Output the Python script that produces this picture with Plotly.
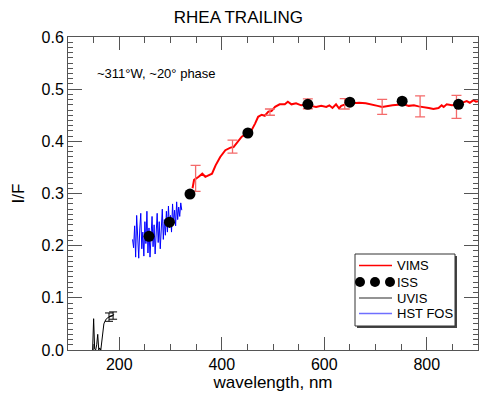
import plotly.graph_objects as go

# ---------------- data ----------------
vims_wl = [343, 346, 355, 362, 368, 375, 381, 388, 397, 407, 417, 423, 429, 439, 449, 458,
           465, 471, 478, 484, 491, 497, 504, 513, 523, 529, 536, 545, 555, 565, 574, 584,
           594, 604, 610, 616, 623, 629, 633, 645, 655, 668, 681, 694, 704, 713, 723, 733,
           744, 755, 765, 775, 784, 794, 804, 813, 823, 829, 833, 839, 849, 858, 868, 878,
           884, 891, 896, 900]
vims_val = [0.310, 0.326, 0.332, 0.338, 0.332, 0.336, 0.338, 0.354, 0.370, 0.383, 0.388, 0.389,
            0.396, 0.409, 0.415, 0.421, 0.434, 0.447, 0.451, 0.449, 0.457, 0.458, 0.466, 0.471,
            0.471, 0.476, 0.471, 0.473, 0.469, 0.470, 0.468, 0.466, 0.468, 0.466, 0.469, 0.464,
            0.471, 0.463, 0.468, 0.472, 0.473, 0.474, 0.473, 0.471, 0.468, 0.466, 0.468, 0.469,
            0.470, 0.471, 0.468, 0.469, 0.467, 0.466, 0.464, 0.462, 0.464, 0.469, 0.466, 0.471,
            0.469, 0.470, 0.473, 0.477, 0.474, 0.479, 0.476, 0.477]

vims_err_wl = [349, 421, 494, 568, 640, 713, 787, 858]
vims_err_val = [0.329, 0.390, 0.456, 0.472, 0.472, 0.466, 0.467, 0.466]
vims_err = [0.025, 0.0125, 0.006, 0.0095, 0.010, 0.0145, 0.020, 0.022]

iss_wl = [258, 298, 338, 451, 568, 650, 752, 862]
iss_val = [0.218, 0.245, 0.299, 0.416, 0.471, 0.475, 0.477, 0.471]

uvis_wl = [148, 150, 152, 154, 156, 158, 160, 162, 164, 166, 168, 170, 172, 175, 178, 182, 186, 190]
uvis_val = [0.000, 0.060, 0.002, 0.000, 0.010, 0.030, 0.000, 0.004, 0.000, 0.020, 0.040, 0.050,
            0.055, 0.060, 0.062, 0.065, 0.066, 0.068]
uvis_err_wl = [180, 188]
uvis_err_val = [0.063, 0.066]
uvis_err = [0.008, 0.007]

fos_wl = [226, 228, 230, 232, 234, 236, 238, 240, 242, 244, 246, 248, 250, 252, 254, 256, 258,
          260, 262, 264, 266, 268, 270, 272, 274, 276, 278, 280, 282, 284, 286, 288, 290, 292,
          294, 296, 298, 300, 302, 304, 306, 308, 310, 312, 314, 316, 318, 320, 322]
fos_val = [0.212, 0.196, 0.238, 0.178, 0.258, 0.212, 0.176, 0.232, 0.262, 0.194, 0.226, 0.180,
           0.246, 0.204, 0.266, 0.186, 0.234, 0.178, 0.218, 0.256, 0.198, 0.240, 0.184, 0.228,
           0.262, 0.206, 0.246, 0.194, 0.236, 0.270, 0.212, 0.250, 0.220, 0.266, 0.226, 0.276,
           0.234, 0.258, 0.226, 0.280, 0.242, 0.268, 0.238, 0.284, 0.250, 0.274, 0.256, 0.282,
           0.268]

legend_labels = ["VIMS", "ISS", "UVIS", "HST FOS"]

# ---------------- figure ----------------
W, H = 479, 393
L, R, T, B = 68, 1, 37, 43
pw, ph = W - L - R, H - T - B

def px(x):
    return (x - L) / pw

def py(y):
    return (H - B - y) / ph

FONT = "Liberation Sans, Arial, Helvetica, sans-serif"
AX = "#555555"

fig = go.Figure()
fig.add_trace(go.Scatter(x=fos_wl, y=fos_val, mode="lines",
                         line=dict(color="#0000ff", width=1), showlegend=False))
fig.add_trace(go.Scatter(x=uvis_wl, y=uvis_val, mode="lines",
                         line=dict(color="#000000", width=1), showlegend=False))
fig.add_trace(go.Scatter(x=uvis_err_wl, y=uvis_err_val, mode="lines",
                         line=dict(color="#000000", width=1),
                         error_y=dict(type="data", array=uvis_err, color="#000000",
                                      thickness=1, width=4),
                         showlegend=False))
fig.add_trace(go.Scatter(x=vims_wl, y=vims_val, mode="lines",
                         line=dict(color="#ff0000", width=2), showlegend=False))
fig.add_trace(go.Scatter(x=vims_err_wl, y=vims_err_val, mode="markers",
                         marker=dict(size=1, color="rgba(0,0,0,0)"),
                         error_y=dict(type="data", array=vims_err, color="#f46a6a",
                                      thickness=1.3, width=5),
                         showlegend=False))
fig.add_trace(go.Scatter(x=iss_wl, y=iss_val, mode="markers",
                         marker=dict(size=11, color="#000000"), showlegend=False))

axis_common = dict(showline=True, linecolor=AX, linewidth=1, mirror="allticks",
                   ticks="inside", tickcolor=AX, tickwidth=1, showgrid=False,
                   zeroline=False, tickfont=dict(family=FONT, size=16, color="#000"))
fig.update_xaxes(range=[100, 900], dtick=200, tick0=0, ticklen=13,
                 minor=dict(dtick=50, tick0=0, ticklen=6, tickcolor=AX, ticks="inside",
                            showgrid=False),
                 title=dict(text="wavelength, nm", font=dict(family=FONT, size=17, color="#000"),
                            standoff=2),
                 **axis_common)
fig.update_yaxes(range=[0, 0.6], dtick=0.1, tick0=0, ticklen=14, tickformat=".1f",
                 minor=dict(dtick=0.01, tick0=0, ticklen=5, tickcolor=AX, ticks="inside",
                            showgrid=False),
                 title=dict(text="I/F", font=dict(family=FONT, size=17, color="#000"),
                            standoff=12),
                 **axis_common)

shapes = []
annotations = []
# legend box with shadow
bx0, bx1, by0, by1 = 355, 455, 254, 326
shapes.append(dict(type="rect", xref="paper", yref="paper", layer="above",
                   x0=px(bx0 + 2), x1=px(bx1 + 2), y0=py(by1 + 2), y1=py(by0 + 2),
                   fillcolor="#444444", line=dict(width=0)))
shapes.append(dict(type="rect", xref="paper", yref="paper", layer="above",
                   x0=px(bx0), x1=px(bx1), y0=py(by1), y1=py(by0),
                   fillcolor="#ffffff", line=dict(color="#333333", width=1)))
rows = [265.5, 282, 298, 313.5]
line_cols = ["#ff0000", None, "#707070", "#6f6fff"]
for lab, yy, c in zip(legend_labels, rows, line_cols):
    if c is not None:
        shapes.append(dict(type="line", xref="paper", yref="paper", layer="above",
                           x0=px(359), x1=px(392), y0=py(yy), y1=py(yy),
                           line=dict(color=c, width=1.5)))
    else:
        for cx in (360, 375, 390):
            shapes.append(dict(type="circle", xref="paper", yref="paper", layer="above",
                               x0=px(cx - 5), x1=px(cx + 5), y0=py(yy + 5), y1=py(yy - 5),
                               fillcolor="#000000", line=dict(width=0)))
    annotations.append(dict(xref="paper", yref="paper", x=px(395), y=py(yy),
                            xanchor="left", yanchor="middle", showarrow=False,
                            text=lab, font=dict(family=FONT, size=13, color="#000")))

annotations.append(dict(xref="paper", yref="paper", x=px(95), y=py(73),
                        xanchor="left", yanchor="middle", showarrow=False,
                        text="~311°W, ~20° phase",
                        font=dict(family=FONT, size=13, color="#000")))

fig.update_layout(
    width=W, height=H,
    margin=dict(l=L, r=R, t=T, b=B),
    paper_bgcolor="#ffffff", plot_bgcolor="#ffffff",
    title=dict(text="RHEA TRAILING", x=px(272), xanchor="center", y=1 - 17 / H,
               yanchor="middle", font=dict(family=FONT, size=17, color="#000")),
    shapes=shapes, annotations=annotations, showlegend=False,
)

fig.write_html("out.html", config={"displayModeBar": False})
